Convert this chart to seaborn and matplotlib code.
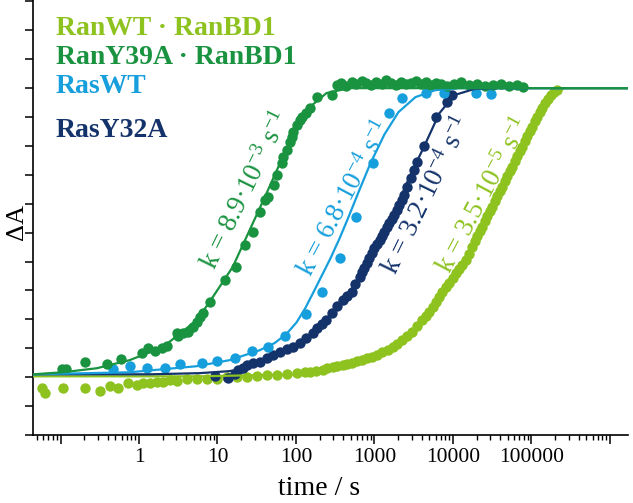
import numpy as np
import pandas as pd
import matplotlib
matplotlib.use('Agg')
import matplotlib.pyplot as plt
import seaborn as sns

# colours of the four constructs
C_RANWT = '#8dc21f'
C_RANY39A = '#1a9340'
C_RASWT = '#169fdc'
C_RASY32A = '#15336b'

# RanWT·RanBD1 measured points (time in s, normalised dA)
ranwt_t = [0.058, 0.063, 0.107, 0.204, 0.317, 0.425, 0.537, 0.721, 0.938, 1.12,
           1.37, 1.69, 2.01, 2.47, 3.03, 4.06, 5.44, 7.29, 9.78, 13.1,
           17.5, 23.5, 31.5, 42.3, 56.7, 75.9, 102, 129, 149, 178,
           218, 252, 292, 338, 392, 453, 525, 608, 704, 815,
           944, 1090, 1260, 1470, 1700, 1960, 2270, 2630, 3040, 3520,
           4080, 4590, 5010, 5640, 6150, 6710, 7330, 8240, 9000, 10100,
           11000, 12100, 13200, 14800, 16200, 17700, 19300, 20400, 22300, 23700,
           25800, 27400, 29900, 31700, 34600, 36700, 40100, 42500, 46400, 49200,
           53700, 57000, 62200, 66000, 72000, 76400, 83400, 88500, 96600, 102000,
           112000, 119000, 129000, 137000, 150000, 164000, 179000, 195000, 213000]
ranwt_a = [-0.038, -0.055, -0.038, -0.038, -0.048, -0.031, -0.038, -0.021, -0.028, -0.021,
           -0.021, -0.017, -0.017, -0.010, -0.014, -0.007, -0.007, -0.007, -0.007, 0.0,
           0.0, 0.0, 0.003, 0.007, 0.007, 0.010, 0.014, 0.017, 0.017, 0.021,
           0.024, 0.031, 0.035, 0.038, 0.042, 0.045, 0.048, 0.055, 0.059, 0.066,
           0.069, 0.076, 0.087, 0.093, 0.104, 0.114, 0.128, 0.142, 0.156, 0.176,
           0.197, 0.211, 0.225, 0.242, 0.260, 0.277, 0.294, 0.311, 0.325, 0.343,
           0.360, 0.374, 0.388, 0.405, 0.426, 0.450, 0.471, 0.488, 0.505, 0.519,
           0.540, 0.557, 0.574, 0.588, 0.609, 0.626, 0.644, 0.657, 0.678, 0.696,
           0.713, 0.727, 0.747, 0.765, 0.782, 0.796, 0.817, 0.834, 0.851, 0.865,
           0.886, 0.900, 0.917, 0.931, 0.948, 0.962, 0.976, 0.986, 0.993]

# RanY39A·RanBD1 measured points
rany39a_t = [0.104, 0.117, 0.204, 0.39, 0.59, 1.09, 1.29, 1.59, 1.95, 2.26,
             3.03, 3.12, 3.61, 4.18, 4.83, 5.43, 5.94, 6.51, 8.0, 12.4,
             17.1, 22.3, 28.2, 34.5, 39.8, 43.6, 52, 56.7, 65.6, 67.6,
             75.9, 83, 88, 90.6, 102, 111, 121, 136, 149, 183, 284,
             329, 380, 440, 510, 590, 684, 791, 916, 1060, 1230,
             1420, 1640, 1900, 2210, 2550, 2960, 3420, 3960, 4590, 5310,
             6150, 7120, 8490, 10400, 12800, 16200, 20400, 25800, 32700, 41300,
             52200, 66000, 78700]
rany39a_a = [0.028, 0.028, 0.052, 0.045, 0.062, 0.083, 0.100, 0.090, 0.100, 0.107,
             0.152, 0.142, 0.152, 0.156, 0.173, 0.190, 0.208, 0.221, 0.259, 0.336,
             0.381, 0.457, 0.502, 0.571, 0.612, 0.623, 0.664, 0.699, 0.740, 0.761,
             0.785, 0.813, 0.830, 0.848, 0.872, 0.889, 0.900, 0.913, 0.931, 0.969, 0.976,
             1.010, 1.017, 1.007, 1.021, 1.014, 1.024, 1.017, 1.010, 1.021, 1.014,
             1.028, 1.017, 1.010, 1.021, 1.014, 1.017, 1.024, 1.014, 1.021, 1.010,
             1.017, 1.014, 1.007, 1.014, 1.021, 1.010, 1.014, 1.007, 1.010, 1.014,
             1.007, 1.010, 1.003]

# RasWT measured points
raswt_t = [0.465, 0.76, 1.26, 2.13, 3.30, 6.3, 9.8, 16.6, 27.2, 43.5, 71.6,
           136, 212, 359, 590, 971, 1550, 2270, 4580, 7760, 19800, 30800]
raswt_a = [0.028, 0.038, 0.031, 0.031, 0.045, 0.048, 0.055, 0.066, 0.090, 0.104, 0.142,
           0.218, 0.294, 0.412, 0.554, 0.740, 0.913, 0.965, 0.983, 0.983, 0.983, 0.979]

# RasY32A measured points
rasy32a_t = [9.2, 13.5, 16.6, 18.1, 20.9, 23.5, 28.0, 34.4, 42.3, 50.4,
             61.8, 75.9, 90.5, 111, 136, 163, 188, 212, 238, 284,
             338, 392, 453, 510, 573, 645, 704, 746, 815, 864,
             943, 1000, 1090, 1160, 1260, 1340, 1460, 1550, 1690, 1800,
             1960, 2080, 2270, 2400, 2630, 2960, 3230, 3520, 4320, 6150,
             8490, 9800]
rasy32a_a = [0.003, -0.003, 0.010, 0.024, 0.031, 0.042, 0.048, 0.052, 0.066, 0.076,
             0.087, 0.097, 0.104, 0.118, 0.135, 0.152, 0.170, 0.183, 0.197, 0.221,
             0.246, 0.266, 0.280, 0.294, 0.322, 0.346, 0.363, 0.377, 0.394, 0.412,
             0.429, 0.446, 0.460, 0.474, 0.488, 0.502, 0.519, 0.533, 0.547, 0.561,
             0.578, 0.595, 0.612, 0.630, 0.657, 0.689, 0.716, 0.744, 0.799, 0.900,
             0.952, 0.976]

# fitted curves
fit_ranwt_t = [0.045, 5.94, 111, 267, 645, 1550, 2790, 5010, 9000, 16200, 29100,
               52300, 94000, 144000, 195000, 264000, 1.7e6]
fit_ranwt_a = [0.003, 0.003, 0.010, 0.031, 0.055, 0.097, 0.145, 0.225, 0.325, 0.426, 0.571,
               0.709, 0.851, 0.941, 0.983, 1.0, 1.0]
fit_rany39a_t = [0.045, 0.107, 0.29, 0.76, 2.01, 5.43, 8.0, 15.6, 25.7, 42.3, 67.6,
                 102, 149, 245, 480, 1.7e6]
fit_rany39a_a = [0.010, 0.017, 0.031, 0.059, 0.104, 0.197, 0.262, 0.381, 0.509, 0.637, 0.761,
                 0.865, 0.934, 0.983, 1.0, 1.0]
fit_raswt_t = [0.045, 0.76, 5.43, 14.3, 34.3, 53.4, 75.9, 102, 132, 167, 212,
               276, 359, 467, 626, 889, 1340, 2020, 3330, 5970, 12100, 1.7e6]
fit_raswt_a = [0.010, 0.017, 0.038, 0.059, 0.093, 0.118, 0.150, 0.190, 0.240, 0.294, 0.350,
               0.412, 0.480, 0.554, 0.640, 0.740, 0.840, 0.917, 0.969, 0.993, 1.0, 1.0]
fit_rasy32a_t = [0.045, 1.37, 5.94, 14.3, 25.7, 46.1, 82.9, 149, 267, 481, 864,
                 1550, 2790, 4320, 6710, 10400, 18700, 39000, 1.7e6]
fit_rasy32a_a = [0.010, 0.010, 0.014, 0.021, 0.035, 0.062, 0.100, 0.142, 0.211, 0.291, 0.412,
                 0.533, 0.692, 0.800, 0.913, 0.976, 0.997, 1.0, 1.0]

legend_names = ['RanWT · RanBD1', 'RanY39A · RanBD1', 'RasWT', 'RasY32A']
legend_colors = [C_RANWT, C_RANY39A, C_RASWT, C_RASY32A]

# rate labels: text, (t, dA) centre, angle
rate_labels = [
    (r'k = 8.9·10$^{-3}$ s$^{-1}$', 23.0, 0.647, 64, C_RANY39A),
    (r'k = 6.8·10$^{-4}$ s$^{-1}$', 415, 0.619, 62, C_RASWT),
    (r'k = 3.2·10$^{-4}$ s$^{-1}$', 4700, 0.630, 64, C_RASY32A),
    (r'k = 3.5·10$^{-5}$ s$^{-1}$', 25000, 0.630, 62, C_RANWT),
]

xtick_vals = [0.1, 1, 10, 100, 1000, 10000, 100000, 1e6]
xtick_text = ['', '1', '10', '100', '1000', '10000', '100000', '']

sns.set_theme(style='ticks')
plt.rcParams['font.family'] = ['Liberation Serif', 'DejaVu Serif']
plt.rcParams['mathtext.fontset'] = 'custom'
plt.rcParams['mathtext.rm'] = 'Liberation Serif'
plt.rcParams['mathtext.it'] = 'Liberation Serif:italic'

fig = plt.figure(figsize=(6.33, 5.03), dpi=100)
ax = fig.add_axes([33 / 633, 68 / 503, 595 / 633, 435 / 503])

series = [
    (ranwt_t, ranwt_a, fit_ranwt_t, fit_ranwt_a, C_RANWT),
    (rasy32a_t, rasy32a_a, fit_rasy32a_t, fit_rasy32a_a, C_RASY32A),
    (raswt_t, raswt_a, fit_raswt_t, fit_raswt_a, C_RASWT),
    (rany39a_t, rany39a_a, fit_rany39a_t, fit_rany39a_a, C_RANY39A),
]
for i, (t, a, ft, fa, col) in enumerate(series):
    pts = pd.DataFrame({'t': t, 'a': a})
    fit = pd.DataFrame({'t': ft, 'a': fa})
    sns.scatterplot(ax=ax, data=pts, x='t', y='a', color=col, s=56,
                    linewidth=0, zorder=2 + i)
    sns.lineplot(ax=ax, data=fit, x='t', y='a', color=col, lw=1.6,
                 sort=False, estimator=None, zorder=6 + i)

ax.set_xscale('log')
ax.set_xlim(0.0446, 1.7e6)
ax.set_ylim(-0.2, 1.305)
ax.set_xticks(xtick_vals)
ax.set_xticklabels(xtick_text)
ax.set_yticks(np.round(np.arange(-0.2, 1.31, 0.1), 2))
ax.tick_params(axis='y', labelleft=False, length=6, width=1.1, color='black')
ax.tick_params(axis='x', which='major', length=6.5, width=1.1, pad=3,
               labelsize=15.5, color='black', labelcolor='black')
ax.tick_params(axis='x', which='minor', length=3.6, width=1.0, color='black')
for side in ['top', 'right']:
    ax.spines[side].set_visible(False)
for side in ['left', 'bottom']:
    ax.spines[side].set_linewidth(1.2)
    ax.spines[side].set_color('black')

ax.set_xlabel('time / s', fontsize=20, color='black')
ax.xaxis.set_label_coords(0.48, -0.095)
ax.set_ylabel('ΔA', fontsize=19, color='black')
ax.yaxis.set_label_coords(-0.008, 0.49)

baselines = [0.9195, 0.853, 0.786, 0.685]
for name, col, yb in zip(legend_names, legend_colors, baselines):
    ax.text(0.038, yb, name, transform=ax.transAxes, color=col, fontsize=20,
            fontweight='bold', ha='left', va='baseline')

for txt, tx, ty, ang, col in rate_labels:
    ax.text(tx, ty, txt, color=col, fontsize=19.5, rotation=ang,
            rotation_mode='anchor', ha='center', va='center', zorder=20)

fig.savefig('out.png', dpi=100)
